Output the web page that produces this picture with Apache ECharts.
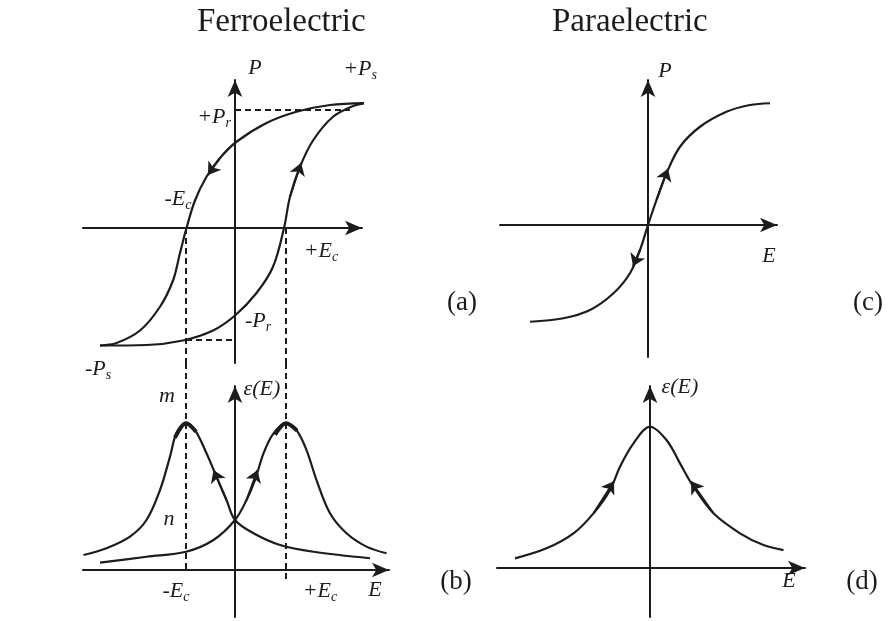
<!DOCTYPE html>
<html>
<head>
<meta charset="utf-8">
<title>Ferroelectric and paraelectric response</title>
<script src="https://cdn.jsdelivr.net/npm/echarts@6/dist/echarts.min.js"></script>
<style>
  html, body { margin: 0; padding: 0; background: #ffffff; }
  #chart { width: 893px; height: 621px; }
</style>
</head>
<body>
<div id="chart"></div>
<script>
// Field E in units of the coercive field, P in units of the saturation polarisation,
// permittivity in units of its peak value.

// (a) hysteresis loop: branch swept from +Ps down to -Ps
const loopFalling = [
  [2.63, 1.0], [1.9, 0.984], [1.23, 0.93], [0.63, 0.84], [0.03, 0.69],
  [-0.3, 0.56], [-0.57, 0.41], [-0.8, 0.22], [-0.97, 0.0], [-1.1, -0.2],
  [-1.24, -0.42], [-1.5, -0.63], [-1.9, -0.82], [-2.37, -0.92], [-2.7, -0.94]
];
// (a) branch swept from -Ps back up to +Ps
const loopRising = [
  [-2.7, -0.94], [-1.77, -0.936], [-1.04, -0.9], [-0.44, -0.82], [0.0, -0.7],
  [0.43, -0.52], [0.76, -0.31], [0.98, 0.0], [1.1, 0.25], [1.3, 0.49],
  [1.56, 0.7], [1.96, 0.89], [2.36, 0.976], [2.63, 1.0]
];
// remanent polarisation guides and coercive field positions
const remanentUpper = [[0, 0.944], [2.3, 0.944]];
const remanentLower = [[-0.98, -0.896], [0, -0.896]];
const coerciveFields = [-0.98, 1.02];
const coerciveDropEnds = [-0.02, -0.07];

// (b) butterfly permittivity curves
const epsFerroLeft = [
  [-3.03, 0.102], [-2.57, 0.148], [-2.1, 0.227], [-1.77, 0.34], [-1.5, 0.544],
  [-1.3, 0.771], [-1.17, 0.93], [-0.98, 0.998], [-0.8, 0.952], [-0.57, 0.794],
  [-0.37, 0.635], [-0.17, 0.476], [0.0, 0.34], [0.37, 0.25], [0.9, 0.17],
  [1.57, 0.124], [2.7, 0.08]
];
const epsFerroRight = [
  [-2.7, 0.05], [-1.77, 0.09], [-0.98, 0.124], [-0.43, 0.204], [0.0, 0.34],
  [0.23, 0.476], [0.4, 0.612], [0.57, 0.794], [0.77, 0.93], [1.02, 0.998],
  [1.23, 0.952], [1.43, 0.816], [1.63, 0.612], [1.9, 0.386], [2.23, 0.25],
  [2.63, 0.159], [3.03, 0.114]
];
const peakCapLeft = [[-1.2, 0.9], [-0.98, 0.998], [-0.78, 0.94]];
const peakCapRight = [[0.8, 0.92], [1.02, 0.998], [1.24, 0.948]];

// (c) paraelectric polarisation
const paraPolar = [
  [-2.36, -0.774], [-1.69, -0.746], [-1.16, -0.68], [-0.69, -0.546], [-0.36, -0.386],
  [-0.16, -0.2], [0.0, 0.0], [0.17, 0.2], [0.37, 0.414], [0.64, 0.626],
  [1.04, 0.786], [1.57, 0.906], [2.04, 0.96], [2.44, 0.974]
];
// (d) paraelectric permittivity
const paraEps = [
  [-2.7, 0.066], [-2.07, 0.134], [-1.53, 0.236], [-1.13, 0.372], [-0.8, 0.53],
  [-0.6, 0.689], [-0.33, 0.848], [0.0, 0.961], [0.33, 0.871], [0.6, 0.712],
  [0.87, 0.553], [1.27, 0.372], [1.8, 0.236], [2.27, 0.156], [2.67, 0.122]
];

// sweep direction arrows: [from, to] along each curve
const arrowsA = [[[-0.3, 0.56], [-0.54, 0.424]], [[1.1, 0.25], [1.32, 0.52]]];
const arrowsB = [[[-0.17, 0.476], [-0.43, 0.68]], [[0.23, 0.476], [0.45, 0.68]]];
const arrowsC = [[[0.17, 0.2], [0.4, 0.45]], [[-0.16, -0.2], [-0.3, -0.33]]];
const arrowsD = [[[-1.13, 0.372], [-0.72, 0.59]], [[1.27, 0.372], [0.82, 0.59]]];

// annotation texts and where they sit (data coordinates of each panel)
const labelsA = [
  ['{i|P}', [0.4, 1.28]], ['{i|+P}{s|s}', [2.5, 1.272]], ['{i|+P}{s|r}', [-0.42, 0.888]],
  ['{i|-E}{s|c}', [-1.14, 0.232]], ['{i|+E}{s|c}', [1.72, -0.184]], ['{i|-P}{s|r}', [0.46, -0.744]],
  ['{i|-P}{s|s}', [-2.74, -1.128]], ['{u|(a)}', [4.54, -0.6]]
];
const labelsB = [
  ['{i|m}', [-1.36, 1.184]], ['{i|n}', [-1.32, 0.347]], ['{i|ε(E)}', [0.54, 1.231]],
  ['{i|-E}{s|c}', [-1.18, -0.143]], ['{i|+E}{s|c}', [1.7, -0.143]], ['{i|E}', [2.8, -0.136]],
  ['{u|(b)}', [4.42, -0.082]]
];
const labelsC = [['{i|P}', [0.34, 1.232]], ['{i|E}', [2.42, -0.248]], ['{u|(c)}', [4.4, -0.624]]];
const labelsD = [['{i|ε(E)}', [0.6, 1.231]], ['{i|E}', [2.78, -0.088]], ['{u|(d)}', [4.24, -0.095]]];

const titles = ['Ferroelectric', 'Paraelectric'];

const ink = '#1c1c1c';
const serif = 'Liberation Serif';

// panel frames: pixel box plus the data range it spans
const panels = [
  { box: { left: 83, top: 80, width: 279, height: 283 }, x: [-3.04, 2.54], y: [-1.08, 1.184] },
  { box: { left: 83, top: 386, width: 306, height: 231 }, x: [-3.04, 3.08], y: [-0.32, 1.252] },
  { box: { left: 500, top: 80, width: 277, height: 277 }, x: [-2.96, 2.58], y: [-1.056, 1.16] },
  { box: { left: 497, top: 386, width: 308, height: 231 }, x: [-3.06, 3.1], y: [-0.333, 1.238] }
];

const axisLine = {
  show: true, onZero: true,
  symbol: ['none', 'arrow'], symbolSize: [11, 17],
  lineStyle: { color: ink, width: 2 }
};
const bareAxis = {
  type: 'value', axisLine: axisLine,
  axisTick: { show: false }, axisLabel: { show: false }, splitLine: { show: false }
};

function curve(g, data, width) {
  return {
    type: 'line', xAxisIndex: g, yAxisIndex: g, data: data,
    smooth: 0.35, showSymbol: false, clip: false, silent: true,
    lineStyle: { color: ink, width: width || 2.2 }
  };
}
function dashed(g, data) {
  return {
    type: 'line', xAxisIndex: g, yAxisIndex: g, data: data,
    showSymbol: false, clip: false, silent: true,
    lineStyle: { color: ink, width: 2, type: [6, 4] }
  };
}
function arrows(g, segs) {
  return {
    type: 'lines', coordinateSystem: 'cartesian2d', xAxisIndex: g, yAxisIndex: g,
    symbol: ['none', 'arrow'], symbolSize: 12, silent: true,
    lineStyle: { color: ink, width: 2, opacity: 1, curveness: 0 },
    data: segs.map(function (s) { return { coords: s }; })
  };
}
const richText = {
  i: { fontFamily: serif, fontStyle: 'italic', fontSize: 22, color: ink },
  s: { fontFamily: serif, fontStyle: 'italic', fontSize: 14, color: ink, padding: [13, 0, 0, 0] },
  u: { fontFamily: serif, fontSize: 27, color: ink }
};
function labels(g, list) {
  return {
    type: 'scatter', xAxisIndex: g, yAxisIndex: g, clip: false, silent: true,
    symbolSize: 0, itemStyle: { color: ink },
    data: list.map(function (l) {
      return {
        value: l[1],
        label: {
          show: true, position: 'inside', formatter: l[0],
          color: ink, textBorderWidth: 0, opacity: 1, rich: richText
        }
      };
    })
  };
}

const dropsA = coerciveFields.map(function (e) { return dashed(0, [[e, 0], [e, panels[0].y[0]]]); });
const dropsB = coerciveFields.map(function (e, k) { return dashed(1, [[e, 1.408], [e, coerciveDropEnds[k]]]); });

const option = {
  backgroundColor: '#ffffff',
  animation: false,
  title: [
    { text: titles[0], left: 192, top: 1, textStyle: { fontFamily: serif, fontSize: 33, fontWeight: 'normal', color: ink } },
    { text: titles[1], left: 547, top: 1, textStyle: { fontFamily: serif, fontSize: 33, fontWeight: 'normal', color: ink } }
  ],
  grid: panels.map(function (p) { return Object.assign({ containLabel: false, show: false }, p.box); }),
  xAxis: panels.map(function (p, g) { return Object.assign({}, bareAxis, { gridIndex: g, min: p.x[0], max: p.x[1] }); }),
  yAxis: panels.map(function (p, g) { return Object.assign({}, bareAxis, { gridIndex: g, min: p.y[0], max: p.y[1] }); }),
  series: [
    curve(0, loopFalling), curve(0, loopRising),
    dashed(0, remanentUpper), dashed(0, remanentLower)
  ].concat(dropsA, dropsB, [
    curve(1, epsFerroLeft), curve(1, epsFerroRight),
    curve(1, peakCapLeft, 4), curve(1, peakCapRight, 4),
    curve(2, paraPolar), curve(3, paraEps),
    arrows(0, arrowsA), arrows(1, arrowsB), arrows(2, arrowsC), arrows(3, arrowsD),
    labels(0, labelsA), labels(1, labelsB), labels(2, labelsC), labels(3, labelsD)
  ])
};

const chart = echarts.init(document.getElementById('chart'), null, { renderer: 'canvas' });
chart.setOption(option);
</script>
</body>
</html>
